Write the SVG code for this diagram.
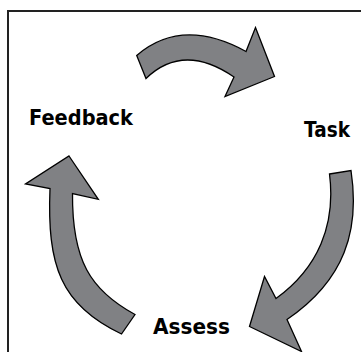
<svg xmlns="http://www.w3.org/2000/svg" width="361" height="352" viewBox="0 0 361 352">
  <style>
    .lbl { font-family: "DejaVu Sans", "Liberation Sans", sans-serif; font-weight: bold; font-size: 21px; fill: #000; }
    .arr { fill: #808184; stroke: #000; stroke-width: 1.3; stroke-linejoin: miter; }
  </style>
  <rect x="8" y="11" width="360" height="350" fill="#fff" stroke="#222" stroke-width="2"/>
  <g id="connectors">
    <path class="arr" d="M 136.7,55.5 Q 182,16.5 246,51.5 L 255.5,27.5 L 274.5,76.5 L 225,96.5 L 234,77 Q 183.4,42.25 146,78.5 Z"/>
    <path class="arr" d="M 329.5,174 L 351,170.5 C 360,230 345,280 287,319.5 L 301.5,351.5 L 249.5,326.5 L 264.5,276.5 L 276,298.5 C 318,268 336,225 329.5,174 Z"/>
    <path class="arr" d="M 69,156 L 98.3,199.3 L 72.5,193.5 C 72,260 90,290 135,314.5 L 121.5,334 C 60,305 47,265 50,188.5 L 25.5,184 Z"/>
  </g>
  <g id="feedback"><text class="lbl" x="29" y="124.5" textLength="104" lengthAdjust="spacingAndGlyphs">Feedback</text></g>
  <g id="task"><text class="lbl" x="304" y="136.5" textLength="46" lengthAdjust="spacingAndGlyphs">Task</text></g>
  <g id="assess"><text class="lbl" x="153" y="333.5" textLength="77" lengthAdjust="spacingAndGlyphs">Assess</text></g>
</svg>
